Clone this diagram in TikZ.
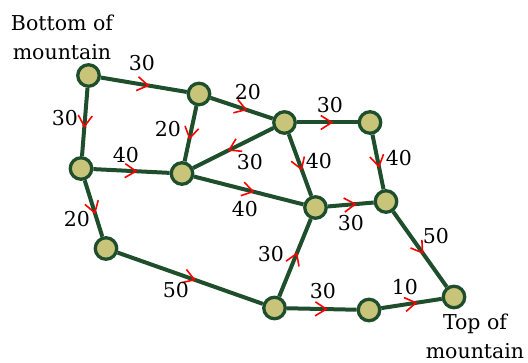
\documentclass[tikz,border=0pt]{standalone}
\usepackage{fontspec}
\setmainfont{DejaVu Serif}
\usetikzlibrary{arrows.meta,decorations.markings}
\definecolor{edgegreen}{RGB}{30,78,44}
\definecolor{nodefill}{RGB}{200,196,122}
\tikzset{
  vert/.style={circle,draw=edgegreen,fill=nodefill,line width=3.3pt,minimum size=21.5pt,inner sep=0pt},
  road/.style={draw=edgegreen,line width=4pt,
    postaction={decorate,decoration={markings,
      mark=at position 0.5 with {\arrow[red,line width=1.6pt,xshift=6pt]{Straight Barb[length=11pt,width=14pt]}}}}},
  wlabel/.style={font=\fontsize{20.5}{24}\selectfont,inner sep=0pt},
  tlabel/.style={font=\fontsize{20.5}{29}\selectfont,align=center,inner sep=0pt}
}
\begin{document}
\begin{tikzpicture}[x=1pt,y=-1pt]
\useasboundingbox (0,0) rectangle (528,363);
% vertices
\node[vert] (A) at (88.5,75.5) {};
\node[vert] (B) at (199,94) {};
\node[vert] (C) at (284.5,122.5) {};
\node[vert] (D) at (370,122.5) {};
\node[vert] (E) at (81,168.5) {};
\node[vert] (F) at (182,173.5) {};
\node[vert] (G) at (315.5,207.5) {};
\node[vert] (H) at (386,201.5) {};
\node[vert] (I) at (106,248.5) {};
\node[vert] (J) at (274.5,308) {};
\node[vert] (K) at (369,310) {};
\node[vert] (L) at (454,297) {};
% roads
\draw[road] (A) -- (B);
\draw[road] (A) -- (E);
\draw[road] (B) -- (C);
\draw[road] (B) -- (F);
\draw[road] (C) -- (D);
\draw[road] (C) -- (F);
\draw[road] (C) -- (G);
\draw[road] (D) -- (H);
\draw[road] (E) -- (F);
\draw[road] (E) -- (I);
\draw[road] (F) -- (G);
\draw[road] (G) -- (H);
\draw[road] (H) -- (L);
\draw[road] (I) -- (J);
\draw[road] (J) -- (G);
\draw[road] (J) -- (K);
\draw[road] (K) -- (L);
% weights
\node[wlabel] (wAB) at (142,63) {30};
\node[wlabel] (wAE) at (65,118) {30};
\node[wlabel] (wBC) at (248,92) {20};
\node[wlabel] (wBF) at (168,129) {20};
\node[wlabel] (wEF) at (126,155) {40};
\node[wlabel] (wCF) at (250,162) {30};
\node[wlabel] (wCD) at (330,105) {30};
\node[wlabel] (wCG) at (319,161) {40};
\node[wlabel] (wDH) at (399,158) {40};
\node[wlabel] (wEI) at (77,219) {20};
\node[wlabel] (wFG) at (245,209) {40};
\node[wlabel] (wIJ) at (176,290) {50};
\node[wlabel] (wGH) at (351,223) {30};
\node[wlabel] (wHL) at (436,236) {50};
\node[wlabel] (wJG) at (271,254) {30};
\node[wlabel] (wJK) at (323,291) {30};
\node[wlabel] (wKL) at (405,287) {10};
% endpoints
\node[tlabel] (bottom) at (62,37) {Bottom of\\mountain};
\node[tlabel] (top) at (475,336) {Top of\\mountain};
\end{tikzpicture}
\end{document}
